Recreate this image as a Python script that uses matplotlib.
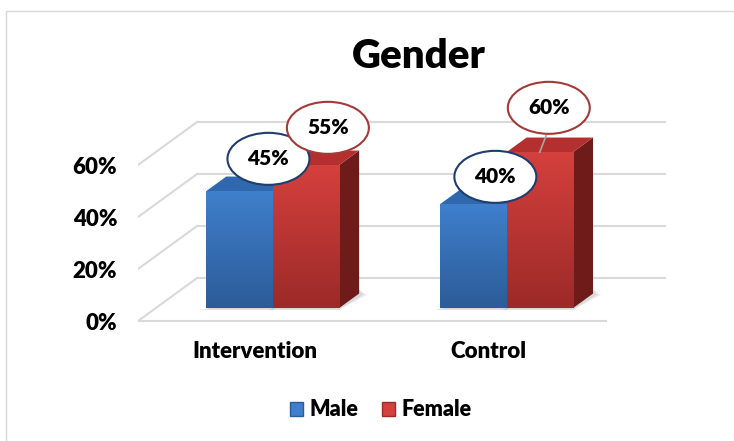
import matplotlib.pyplot as plt
import numpy as np
from matplotlib.patches import Ellipse, Patch, Rectangle, Polygon
from matplotlib.colors import LinearSegmentedColormap

categories = ['Intervention', 'Control']
male = [45, 40]
female = [55, 60]
series_names = ['Male', 'Female']
y_ticks = [0, 20, 40, 60]

plt.rcParams['font.family'] = ['Lato', 'DejaVu Sans']
plt.rcParams['font.weight'] = 'heavy'

# fake 3d: a point (x, v, depth) is drawn at (x + depth*DX, v + depth*DY)
DX = 0.252
DY = 16.5
D0, D1 = 0.30, 0.64     # depth range of the bars
W = 0.284
GRID = '#d9d9d9'

styles = [
    # front top, front bottom, side, top face, label edge
    ('#3f7fcc', '#2c5c98', '#244e85', '#3068ad', '#1f3d6e'),
    ('#d4403d', '#9c2a28', '#6e1b1a', '#b3302e', '#a33a38'),
]
# label offsets (px right, px up) from the top face centre, and leader flag
label_off = [[(19, 25), (12, 20)], [(12, 30), (-1, 37)]]
leader = [[False, False], [False, True]]

fig = plt.figure(figsize=(7.34, 4.41), dpi=100)
ax = fig.add_axes([138/734, (441-334)/441, 538/734, 273/441])
ax.set_xlim(-0.5, 1.8)
ax.set_ylim(-5, 100)
px_x = 234.0   # pixels per x unit
px_y = 2.6     # pixels per percent

# walls
for v in y_ticks:
    ax.plot([-0.5, -0.5 + DX], [v, v + DY], color=GRID, lw=1.5, zorder=1)
    ax.plot([-0.5 + DX, 1.5 + DX], [v + DY, v + DY], color=GRID, lw=1.5, zorder=1)
ax.plot([-0.5, 1.5], [0, 0], color=GRID, lw=1.5, zorder=1)

x = np.arange(len(categories))
dd = D1 - D0
for s, vals in enumerate([male, female]):
    ftop, fbot, side_c, top_c, edge_c = styles[s]
    cmap = LinearSegmentedColormap.from_list('f%d' % s, [fbot, ftop])
    off = -W/2 if s == 0 else W/2
    xs = x + off + D0*DX
    z = 3 + s*2
    bars = ax.bar(xs, vals, W, bottom=D0*DY, color=ftop, zorder=z)
    for i, (b, v) in enumerate(zip(bars, vals)):
        left, right = xs[i] - W/2, xs[i] + W/2
        b0 = D0*DY
        top = b0 + v
        side = [(right, b0), (right + dd*DX, D1*DY), (right + dd*DX, v + D1*DY), (right, top)]
        topf = [(left, top), (right, top), (right + dd*DX, v + D1*DY), (left + dd*DX, v + D1*DY)]
        # soft shadow on the floor
        for k, a in enumerate([0.10, 0.10, 0.12]):
            g = 0.035 - k*0.01
            ax.add_patch(Polygon([(left - 0.02, b0 - 0.6), (right, b0 - 0.6),
                                  (right + dd*DX + g, D1*DY - 0.5), (right + dd*DX, D1*DY + 1.5)],
                                 closed=True, color='#7f7f7f', alpha=a, lw=0, zorder=z - 0.5))
        ax.add_patch(Polygon(side, closed=True, fc=side_c, ec='none', zorder=z))
        ax.add_patch(Polygon(topf, closed=True, fc=top_c, ec='none', zorder=z))
        grad = np.linspace(0, 1, 100).reshape(-1, 1)
        im = ax.imshow(grad, cmap=cmap, origin='lower', aspect='auto',
                       extent=[left, right, b0, top], zorder=z + 0.5)
        im.set_clip_path(b)
        # data label
        ax_c = xs[i] + dd/2*DX
        ay_c = top + dd/2*DY
        ox, oy = label_off[s][i]
        cx, cy = ax_c + ox/px_x, ay_c + oy/px_y
        ew, eh = 82/px_x, 52/px_y
        if leader[s][i]:
            ax.plot([cx - 2/px_x, xs[i]], [cy - eh/2, top], color='#a6a6a6', lw=1.2,
                    zorder=9, clip_on=False)
        ax.add_patch(Ellipse((cx, cy), ew, eh, fc='white', ec=edge_c, lw=1.5,
                             zorder=10, clip_on=False))
        ax.text(cx, cy, '%d%%' % v, ha='center', va='center', fontsize=15,
                zorder=11)

ax.set_xlim(-0.5, 1.8)
ax.set_ylim(-5, 100)
ax.set_yticks(y_ticks, ['%d%%' % v for v in y_ticks])
ax.set_xticks(x, categories)
ax.tick_params(axis='y', length=0, pad=15, labelsize=16)
ax.tick_params(axis='x', length=0, pad=5, labelsize=16)
for sp in ax.spines.values():
    sp.set_visible(False)
ax.patch.set_alpha(0)

fig.text(419/734, 1 - 56/441, 'Gender', ha='center', va='center', fontsize=29)

handles = [Patch(facecolor=styles[k][0], edgecolor=styles[k][1]) for k in range(2)]
fig.legend(handles, series_names, loc='center', bbox_to_anchor=(381/734, 1 - 410/441),
           ncol=2, frameon=False, fontsize=15.5, handlelength=0.6, handleheight=0.6,
           handletextpad=0.3, columnspacing=1.1)

fig.add_artist(Rectangle((6/734, -0.1), 2, 1 - 11/441 + 0.1, transform=fig.transFigure,
                         fill=False, ec=GRID, lw=1))

fig.savefig('out.png', dpi=100)
